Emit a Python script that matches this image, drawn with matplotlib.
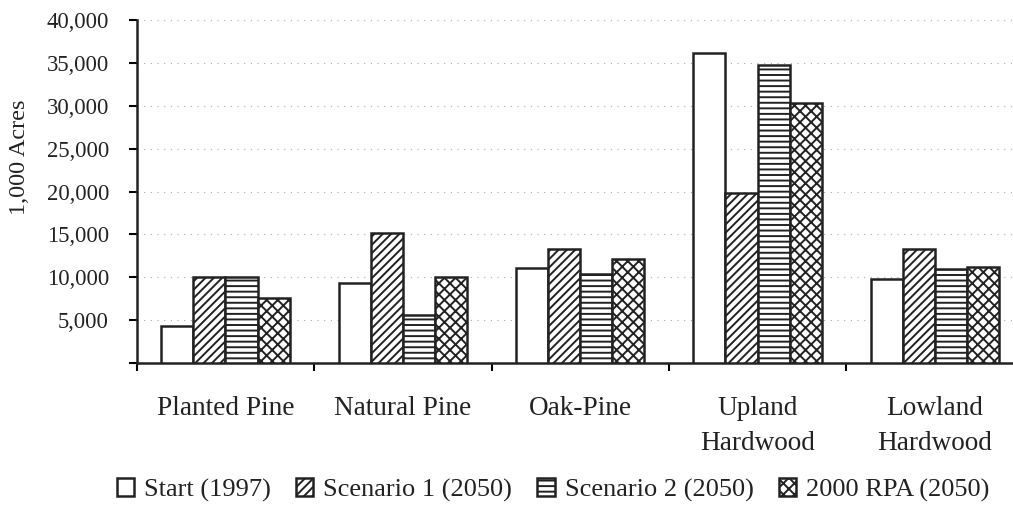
import numpy as np
import matplotlib.pyplot as plt
from matplotlib.ticker import FuncFormatter, MultipleLocator, FixedLocator

plt.rcParams['font.family'] = ['Liberation Serif', 'DejaVu Serif']
plt.rcParams['hatch.linewidth'] = 1.4

categories = ["Planted Pine", "Natural Pine", "Oak-Pine", "Upland\nHardwood", "Lowland\nHardwood"]
series_names = ["Start (1997)", "Scenario 1 (2050)", "Scenario 2 (2050)", "2000 RPA (2050)"]
start_1997 = [4300, 9300, 11100, 36100, 9850]
scenario1_2050 = [10000, 15200, 13350, 19850, 13350]
scenario2_2050 = [10000, 5550, 10400, 34800, 11000]
rpa_2050 = [7600, 10000, 12100, 30350, 11150]

values = [start_1997, scenario1_2050, scenario2_2050, rpa_2050]
hatches = ["", "////", "---", "xxx"]

fig = plt.figure(figsize=(10.13, 5.08), dpi=100)
ax = fig.add_axes([0.135, 0.2854, 0.865, 0.6752])

x = np.arange(len(categories))
w = 0.181
for i, (vals, h, name) in enumerate(zip(values, hatches, series_names)):
    ax.bar(x + (i - 1.5) * w, vals, w, color="white", edgecolor="#222222",
           linewidth=1.8, hatch=h, label=name, zorder=3)

ax.set_ylim(0, 40000)
ax.set_xlim(-0.5, 4.44)
ax.yaxis.set_major_locator(MultipleLocator(5000))
ax.yaxis.set_major_formatter(FuncFormatter(lambda v, p: "" if v == 0 else f"{int(v):,}"))
ax.grid(axis="y", linestyle=(0, (1, 5)), color="#aaaaaa", linewidth=0.8, zorder=0)

ax.set_xticks(x)
ax.set_xticklabels(categories, fontsize=19.6, linespacing=1.5, va="top", color="#222222")
ax.xaxis.set_minor_locator(FixedLocator(np.arange(-0.5, 4.5, 1.0)))
ax.tick_params(axis="x", which="major", length=0, pad=24)
ax.tick_params(axis="x", which="minor", length=6, width=1.5, direction="out")
ax.tick_params(axis="y", labelsize=16.3, length=6, width=1.5, direction="out", pad=14,
               labelcolor="#222222")

for s in ["top", "right"]:
    ax.spines[s].set_visible(False)
for s in ["left", "bottom"]:
    ax.spines[s].set_linewidth(1.8)
    ax.spines[s].set_color("#222222")

ax.set_ylabel("1,000 Acres", fontsize=17.5, color="#222222")
ax.yaxis.set_label_coords(-0.122, 0.6)

fig.legend(loc="center", bbox_to_anchor=(0.546, 0.035), ncol=4, frameon=False,
           fontsize=19, handlelength=0.65, handleheight=0.65, handletextpad=0.38,
           columnspacing=0.95, borderaxespad=0, labelcolor="#222222")

fig.savefig("out.png", dpi=100)
